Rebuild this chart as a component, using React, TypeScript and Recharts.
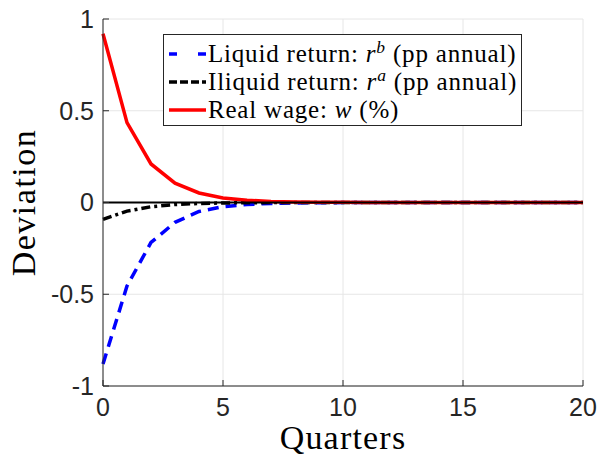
import { LineChart, Line, XAxis, YAxis, CartesianGrid, ReferenceLine, Legend, Label } from "recharts";

const quarters = [0, 1, 2, 3, 4, 5, 6, 7, 8, 9, 10, 11, 12, 13, 14, 15, 16, 17, 18, 19, 20];
const liquidReturn = [-0.88, -0.455, -0.218, -0.108, -0.049, -0.023, -0.011, -0.005, -0.0025, -0.0012, -0.0006, -0.0003, -0.0001, 0, 0, 0, 0, 0, 0, 0, 0];
const illiquidReturn = [-0.092, -0.047, -0.023, -0.011, -0.005, -0.0025, -0.0012, -0.0006, -0.0003, -0.0001, 0, 0, 0, 0, 0, 0, 0, 0, 0, 0, 0];
const realWage = [0.92, 0.435, 0.21, 0.105, 0.052, 0.025, 0.012, 0.006, 0.003, 0.0015, 0.0008, 0.0004, 0.0002, 0.0001, 0, 0, 0, 0, 0, 0, 0];

const xTicks = [0, 5, 10, 15, 20];
const yTicks = [-1, -0.5, 0, 0.5, 1];

const data = quarters.map((q, i) => ({
  q,
  liquid: liquidReturn[i],
  illiquid: illiquidReturn[i],
  wage: realWage[i],
}));

const axisColor = "#262626";
const tickFont = "'Liberation Sans', Arial, sans-serif";
const serifFont = "'Liberation Serif', 'Times New Roman', serif";

function XTick({ x, y, payload }: any) {
  return (
    <g>
      <line x1={x} y1={y} x2={x} y2={y - 6} stroke={axisColor} strokeWidth={1} />
      <text x={x} y={y + 12} dy="0.71em" textAnchor="middle" fill={axisColor} fontSize={25} fontFamily={tickFont}>
        {payload.value}
      </text>
    </g>
  );
}

function YTick({ x, y, payload }: any) {
  return (
    <g>
      <line x1={x} y1={y} x2={x + 6} y2={y} stroke={axisColor} strokeWidth={1} />
      <text x={x - 9} y={y} dy="0.355em" textAnchor="end" fill={axisColor} fontSize={25} fontFamily={tickFont}>
        {payload.value}
      </text>
    </g>
  );
}

const textStyle = { fontFamily: serifFont, fontSize: 25, letterSpacing: 0.8, color: "#000" };
const supStyle = { fontFamily: serifFont, fontSize: "0.7em", lineHeight: 0, fontStyle: "italic" as const };

function LegendBox() {
  const row = { display: "flex", alignItems: "center", height: 28, lineHeight: "28px", whiteSpace: "nowrap" as const };
  return (
    <div
      style={{
        width: 357,
        height: 85,
        paddingTop: 5,
        border: `1px solid ${axisColor}`,
        background: "#fff",
        ...textStyle,
      }}
    >
      <div style={row}>
        <svg width={44} height={28}>
          <line x1={5} y1={14} x2={42} y2={14} stroke="#0000ff" strokeWidth={3.5} strokeDasharray="8 21 8" />
        </svg>
        <span style={textStyle}>
          Liquid return: <i style={{ fontFamily: serifFont }}>r</i>
          <sup style={supStyle}>b</sup> (pp annual)
        </span>
      </div>
      <div style={row}>
        <svg width={44} height={28}>
          <line x1={5} y1={14} x2={42} y2={14} stroke="#000" strokeWidth={3.5} strokeDasharray="8 3" />
        </svg>
        <span style={textStyle}>
          Iliquid return: <i style={{ fontFamily: serifFont }}>r</i>
          <sup style={supStyle}>a</sup> (pp annual)
        </span>
      </div>
      <div style={row}>
        <svg width={44} height={28}>
          <line x1={5} y1={14} x2={42} y2={14} stroke="#ff0000" strokeWidth={3.5} />
        </svg>
        <span style={textStyle}>
          Real wage: <i style={{ fontFamily: serifFont }}>w</i> (%)
        </span>
      </div>
    </div>
  );
}

export default function App() {
  return (
    <div style={{ position: "absolute", left: 0, top: 0, background: "#fff" }}>
      <LineChart width={597} height={462} data={data} margin={{ top: 19, right: 14, bottom: 0, left: 0 }}>
        <CartesianGrid stroke="#e6e6e6" strokeWidth={1} />
        <XAxis
          dataKey="q"
          type="number"
          domain={[0, 20]}
          ticks={xTicks}
          height={76}
          tickSize={0}
          tickMargin={0}
          tickLine={false}
          axisLine={{ stroke: axisColor, strokeWidth: 1 }}
          tick={<XTick />}
          interval={0}
        >
          <Label
            content={({ viewBox }: any) => (
              <text
                x={viewBox.x + viewBox.width / 2}
                y={viewBox.y + 63}
                textAnchor="middle"
                fontSize={34}
                letterSpacing={1.2}
                fontFamily={serifFont}
                fill="#000"
              >
                Quarters
              </text>
            )}
          />
        </XAxis>
        <YAxis
          type="number"
          domain={[-1, 1]}
          ticks={yTicks}
          width={103}
          tickSize={0}
          tickMargin={0}
          tickLine={false}
          axisLine={{ stroke: axisColor, strokeWidth: 1 }}
          tick={<YTick />}
          interval={0}
        >
          <Label
            content={({ viewBox }: any) => {
              const cx = viewBox.x + 35;
              const cy = viewBox.y + viewBox.height / 2;
              return (
                <text
                  x={cx}
                  y={cy}
                  transform={`rotate(-90 ${cx} ${cy})`}
                  textAnchor="middle"
                  fontSize={34}
                  letterSpacing={1.5}
                  fontFamily={serifFont}
                  fill="#000"
                >
                  Deviation
                </text>
              );
            }}
          />
        </YAxis>
        <Line dataKey="liquid" stroke="#0000ff" strokeWidth={3.5} strokeDasharray="11 7" dot={false} isAnimationActive={false} />
        <Line dataKey="illiquid" stroke="#000000" strokeWidth={3.5} strokeDasharray="9 4 3 4" dot={false} isAnimationActive={false} />
        <Line dataKey="wage" stroke="#ff0000" strokeWidth={3.5} dot={false} isAnimationActive={false} />
        <ReferenceLine y={0} stroke="#000" strokeWidth={2} />
        <Legend
          layout="horizontal"
          verticalAlign="middle"
          align="center"
          content={() => <LegendBox />}
          wrapperStyle={{ left: 163, top: 34, width: 359, height: 92 }}
        />
      </LineChart>
    </div>
  );
}
